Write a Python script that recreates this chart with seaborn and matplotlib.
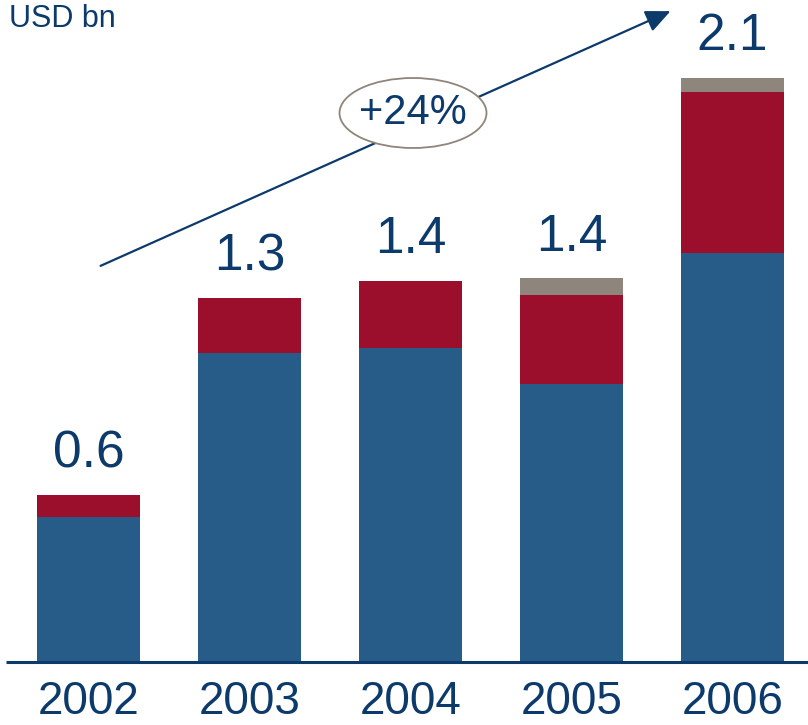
import matplotlib
matplotlib.use("Agg")
import matplotlib.pyplot as plt
import numpy as np
import pandas as pd
import seaborn as sns
from matplotlib.patches import Ellipse, FancyArrowPatch

# Revenue by year, split into three components (USD bn)
years = ["2002", "2003", "2004", "2005", "2006"]
core = [0.52, 1.11, 1.13, 1.00, 1.47]
second = [0.08, 0.20, 0.24, 0.32, 0.58]
other = [0.00, 0.00, 0.00, 0.06, 0.05]
unit_label = "USD bn"
growth_label = "+24%"

BLUE = "#275c89"
RED = "#9b0f2d"
GRAY = "#8e867c"
NAVY = "#0c3a6b"
RING = "#8f857b"

sns.set_theme(style="white")
plt.rcParams["font.family"] = ["Liberation Sans", "DejaVu Sans"]

df = pd.DataFrame({"year": years, "core": core, "second": second, "other": other})
df["top2"] = df["core"] + df["second"]
df["total"] = df["top2"] + df["other"]

W, H = 808, 725
fig = plt.figure(figsize=(W / 100, H / 100), dpi=100)
base_px = 662
ax = fig.add_axes([0, (H - base_px) / H, 1, base_px / H])

# stacked bars: draw cumulative heights from the tallest layer down
for col, colr in [("total", GRAY), ("top2", RED), ("core", BLUE)]:
    sns.barplot(data=df, x="year", y=col, color=colr, width=0.64,
                saturation=1, errorbar=None, linewidth=0, ax=ax)

step = 161.0
x0 = -88.5 / step
x1 = (W - 88.5) / step
ax.set_xlim(x0, x1)
ax.set_ylim(0, base_px / 278.0)
for s in ax.spines.values():
    s.set_visible(False)
ax.set_xlabel("")
ax.set_ylabel("")
ax.set_yticks([])
ax.tick_params(axis="x", length=0, pad=13, labelsize=33, labelcolor=NAVY)

ax.hlines(0, x0 + 6 / step, x1, color=NAVY, lw=2.2, clip_on=False, zorder=5)

for i, t in enumerate(df["total"]):
    ax.text(i, t + 0.10, f"{t:.1f}", ha="center", va="baseline",
            fontsize=37, color=NAVY)

fig.text(9 / W, 1 - 27 / H, unit_label, ha="left", va="baseline",
         fontsize=22, color=NAVY)

# growth arrow with the CAGR bubble
fig.add_artist(FancyArrowPatch(
    (98, H - 267), (673, H - 10), transform=None,
    arrowstyle="-|>,head_length=1.0,head_width=0.45", mutation_scale=15,
    color=NAVY, lw=1.6, zorder=3))
fig.add_artist(Ellipse((4.13, (H - 113) / 100), 1.47, 0.70,
                       transform=fig.dpi_scale_trans, facecolor="white",
                       edgecolor=RING, lw=1.3, zorder=4))
fig.text(413 / W, 1 - 113 / H, growth_label, ha="center", va="center",
         fontsize=30, color=NAVY, zorder=5)

fig.savefig("out.png", dpi=100)
